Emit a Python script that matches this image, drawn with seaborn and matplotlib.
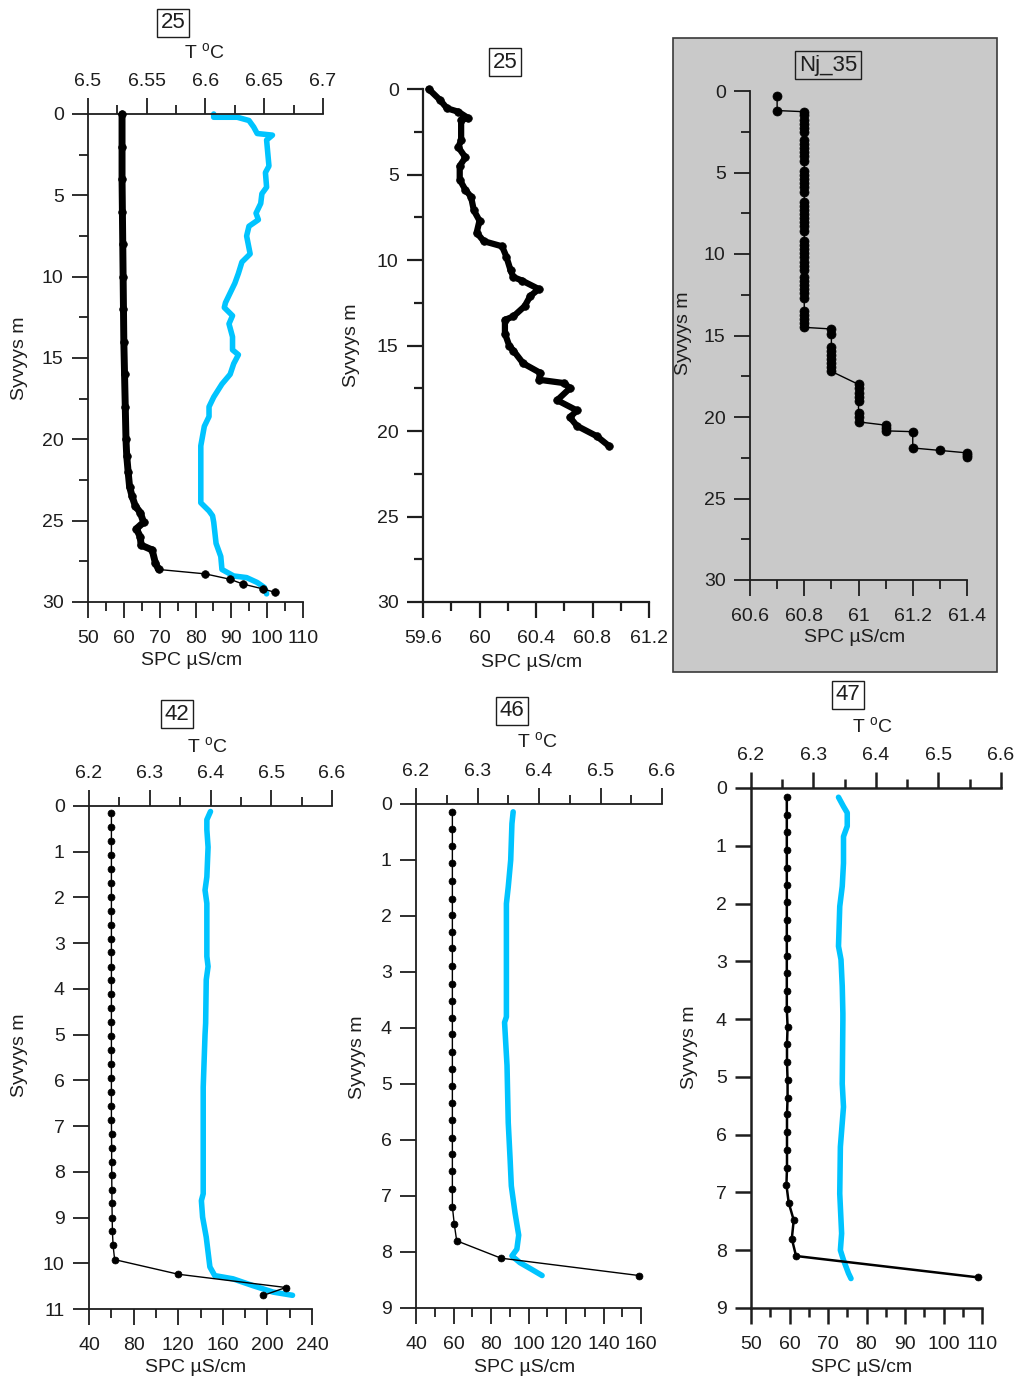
import matplotlib
matplotlib.use("Agg")
import matplotlib.pyplot as plt
from matplotlib.ticker import FixedLocator, NullLocator
from matplotlib.patches import Rectangle
import seaborn as sns

# ---------------------------------------------------------------- data
# Station 25, temperature + SPC profile
st25a_t_depth = [0.0, 0.2, 0.2, 0.4, 0.8, 1.2, 1.3, 1.6, 3.2, 3.6, 4.5, 4.9, 5.5, 6.1, 6.5,
                 6.9, 7.5, 8.6, 9.1, 9.8, 10.4, 11.0, 11.6, 11.9, 12.4, 12.9, 13.7, 14.5,
                 14.8, 15.35, 16.0, 16.6, 17.4, 18.0, 18.6, 19.2, 20.4, 21.9, 23.9, 24.4,
                 24.7, 25.1, 26.4, 27.2, 28.0, 28.4, 28.5, 28.8, 29.1, 29.5]
st25a_t = [6.607, 6.607, 6.627, 6.637, 6.641, 6.644, 6.657, 6.652, 6.654, 6.651, 6.652,
           6.648, 6.647, 6.643, 6.645, 6.637, 6.635, 6.638, 6.631, 6.628, 6.625, 6.621,
           6.617, 6.616, 6.623, 6.620, 6.623, 6.623, 6.628, 6.624, 6.621, 6.614, 6.607,
           6.603, 6.603, 6.599, 6.596, 6.596, 6.596, 6.603, 6.606, 6.607, 6.609, 6.613,
           6.614, 6.624, 6.635, 6.644, 6.650, 6.652]
st25a_spc_depth = [0.0, 2.0, 4.0, 6.0, 8.0, 10.0, 12.0, 14.0, 16.0, 18.0, 20.0, 21.0, 22.0,
                   22.9, 23.5, 24.1, 24.5, 25.1, 25.5, 26.0, 26.5, 26.8, 27.6, 28.0, 28.27,
                   28.6, 28.9, 29.2, 29.4]
st25a_spc = [59.5, 59.5, 59.5, 59.6, 59.7, 59.8, 59.9, 60.0, 60.2, 60.4, 60.6, 60.8, 61.2,
             61.6, 62.3, 63.2, 64.6, 65.5, 63.5, 64.6, 64.8, 67.9, 68.8, 69.7, 82.7, 89.6,
             93.3, 98.9, 102.1]

# Station 25, SPC only
st25b_depth = [0.0, 0.64, 1.13, 1.33, 1.7, 1.8, 3.0, 3.4, 4.0, 4.5, 5.3, 5.9, 6.3, 7.1, 7.7,
               8.4, 8.9, 9.2, 9.8, 10.6, 11.0, 11.2, 11.7, 12.1, 12.7, 13.3, 13.5, 14.3,
               15.0, 15.3, 16.05, 16.6, 17.0, 17.2, 17.5, 18.2, 18.8, 19.2, 19.7, 20.3, 20.9]
st25b_spc = [59.64, 59.72, 59.77, 59.85, 59.92, 59.87, 59.87, 59.85, 59.90, 59.86, 59.86,
             59.90, 59.94, 59.96, 60.00, 59.98, 60.03, 60.16, 60.19, 60.22, 60.24, 60.30,
             60.42, 60.36, 60.32, 60.24, 60.18, 60.18, 60.21, 60.24, 60.31, 60.43, 60.42,
             60.60, 60.64, 60.55, 60.69, 60.64, 60.69, 60.83, 60.92]

# Nj_35, SPC only
nj35_depth = [0.3, 1.2,
              1.27, 1.5, 1.75, 2.0, 2.25, 2.5,
              3.0, 3.25, 3.5, 3.75, 4.0, 4.3,
              4.9, 5.15, 5.4, 5.65, 5.9, 6.2,
              6.8, 7.05, 7.3, 7.55, 7.8, 8.05, 8.3, 8.6,
              9.2, 9.45, 9.7, 9.95, 10.2, 10.5, 10.75, 11.0,
              11.4, 11.65, 11.9, 12.15, 12.4, 12.7,
              13.5, 13.75, 14.0, 14.25, 14.5,
              14.6, 14.9, 15.7, 15.95, 16.2, 16.45, 16.7, 16.95, 17.2,
              18.0, 18.25, 18.5, 18.75, 19.0, 19.75, 20.0, 20.3,
              20.5, 20.7, 20.85,
              20.9, 21.9,
              22.05,
              22.2, 22.35, 22.45]
nj35_spc = [60.7, 60.7,
            60.8, 60.8, 60.8, 60.8, 60.8, 60.8,
            60.8, 60.8, 60.8, 60.8, 60.8, 60.8,
            60.8, 60.8, 60.8, 60.8, 60.8, 60.8,
            60.8, 60.8, 60.8, 60.8, 60.8, 60.8, 60.8, 60.8,
            60.8, 60.8, 60.8, 60.8, 60.8, 60.8, 60.8, 60.8,
            60.8, 60.8, 60.8, 60.8, 60.8, 60.8,
            60.8, 60.8, 60.8, 60.8, 60.8,
            60.9, 60.9, 60.9, 60.9, 60.9, 60.9, 60.9, 60.9, 60.9,
            61.0, 61.0, 61.0, 61.0, 61.0, 61.0, 61.0, 61.0,
            61.1, 61.1, 61.1,
            61.2, 61.2,
            61.3,
            61.4, 61.4, 61.4]

# Station 42
st42_depth = [0.15, 0.45, 0.76, 1.07, 1.37, 1.68, 1.99, 2.29, 2.6, 2.9, 3.2, 3.51, 3.81,
              4.11, 4.42, 4.72, 5.03, 5.34, 5.64, 5.95, 6.25, 6.56, 6.86, 7.17, 7.47, 7.78,
              8.08, 8.39, 8.69, 9.0, 9.3, 9.61, 9.92, 10.24, 10.53, 10.7]
st42_spc = [60.1, 60.1, 60.1, 60.1, 60.1, 60.1, 60.1, 60.1, 60.1, 60.1, 60.1, 60.1, 60.1,
            60.1, 60.1, 60.1, 60.1, 60.1, 60.1, 60.1, 60.1, 60.1, 60.1, 60.2, 60.3, 60.3,
            60.4, 60.5, 60.6, 60.8, 61.0, 61.6, 63.0, 120.1, 216.6, 196.5]
st42_t_depth = [0.12, 0.3, 0.52, 0.9, 1.55, 1.84, 2.13, 3.29, 3.51, 3.8, 4.75, 5.0, 6.15,
                8.48, 8.63, 8.99, 9.43, 10.08, 10.27, 10.34, 10.49, 10.63, 10.7]
st42_t = [6.400, 6.394, 6.394, 6.396, 6.394, 6.391, 6.394, 6.394, 6.396, 6.393, 6.392,
          6.391, 6.388, 6.388, 6.385, 6.387, 6.393, 6.399, 6.407, 6.437, 6.470, 6.503, 6.535]

# Station 46
st46_depth = [0.15, 0.45, 0.75, 1.06, 1.37, 1.69, 1.99, 2.28, 2.58, 2.89, 3.21, 3.52, 3.82,
              4.11, 4.42, 4.73, 5.03, 5.34, 5.65, 5.96, 6.25, 6.56, 6.88, 7.19, 7.5, 7.8,
              8.11, 8.42]
st46_spc = [59.4, 59.4, 59.4, 59.4, 59.4, 59.4, 59.4, 59.4, 59.4, 59.4, 59.4, 59.4, 59.4,
            59.4, 59.4, 59.4, 59.4, 59.4, 59.4, 59.4, 59.4, 59.4, 59.4, 59.4, 60.4, 61.7,
            85.3, 158.9]
st46_t_depth = [0.14, 0.35, 1.0, 1.48, 1.78, 3.8, 3.9, 4.67, 5.69, 6.34, 6.82, 7.3, 7.7,
                7.95, 8.07, 8.19, 8.31, 8.42]
st46_t = [6.358, 6.356, 6.354, 6.350, 6.347, 6.347, 6.344, 6.348, 6.350, 6.353, 6.355,
          6.361, 6.367, 6.364, 6.356, 6.369, 6.388, 6.405]

# Station 47
st47_depth = [0.16, 0.46, 0.77, 1.08, 1.38, 1.68, 1.98, 2.29, 2.6, 2.9, 3.2, 3.51, 3.82,
              4.13, 4.43, 4.74, 5.06, 5.36, 5.65, 5.96, 6.27, 6.57, 6.87, 7.18, 7.48, 7.8,
              8.1, 8.47]
st47_spc = [59.3, 59.3, 59.3, 59.3, 59.3, 59.3, 59.3, 59.3, 59.3, 59.3, 59.3, 59.3, 59.3,
            59.5, 59.35, 59.35, 59.5, 59.5, 59.35, 59.35, 59.35, 59.35, 59.2, 59.8, 61.1,
            60.6, 61.7, 109.0]
st47_t_depth = [0.16, 0.32, 0.43, 0.66, 0.84, 1.3, 1.7, 2.05, 2.74, 2.97, 3.43, 3.9, 4.02,
                5.12, 5.52, 6.21, 7.02, 7.71, 8.0, 8.17, 8.4, 8.49]
st47_t = [6.340, 6.348, 6.354, 6.354, 6.348, 6.348, 6.346, 6.342, 6.340, 6.344, 6.346,
          6.347, 6.347, 6.346, 6.348, 6.343, 6.342, 6.345, 6.343, 6.348, 6.356, 6.360]

# labels and ticks
titles = ["25", "25", "Nj_35", "42", "46", "47"]
depth_label = "Syvyys m"
spc_label = "SPC µS/cm"
temp_label = "T $^{\\mathregular{o}}$C"

t_ticks_25 = [6.5, 6.55, 6.6, 6.65, 6.7]
t_labels_25 = ["6.5", "6.55", "6.6", "6.65", "6.7"]
t_ticks_low = [6.2, 6.3, 6.4, 6.5, 6.6]
t_labels_low = ["6.2", "6.3", "6.4", "6.5", "6.6"]
spc_ticks_25a = [50, 60, 70, 80, 90, 100, 110]
spc_labels_25a = ["50", "60", "70", "80", "90", "100", "110"]
spc_ticks_25b = [59.6, 60.0, 60.4, 60.8, 61.2]
spc_labels_25b = ["59.6", "60", "60.4", "60.8", "61.2"]
spc_ticks_nj = [60.6, 60.8, 61.0, 61.2, 61.4]
spc_labels_nj = ["60.6", "60.8", "61", "61.2", "61.4"]
spc_ticks_42 = [40, 80, 120, 160, 200, 240]
spc_labels_42 = ["40", "80", "120", "160", "200", "240"]
spc_ticks_46 = [40, 60, 80, 100, 120, 140, 160]
spc_labels_46 = ["40", "60", "80", "100", "120", "140", "160"]
spc_ticks_47 = [50, 60, 70, 80, 90, 100, 110]
spc_labels_47 = ["50", "60", "70", "80", "90", "100", "110"]
depth_ticks_30 = [0, 5, 10, 15, 20, 25, 30]
depth_ticks_11 = [0, 1, 2, 3, 4, 5, 6, 7, 8, 9, 10, 11]
depth_ticks_9 = [0, 1, 2, 3, 4, 5, 6, 7, 8, 9]

# ---------------------------------------------------------------- style
sns.set_theme(style="ticks")
plt.rcParams["font.family"] = ["Liberation Sans", "DejaVu Sans"]
plt.rcParams["mathtext.fontset"] = "custom"
plt.rcParams["mathtext.rm"] = "Liberation Sans"
plt.rcParams["mathtext.it"] = "Liberation Sans:italic"
plt.rcParams["mathtext.bf"] = "Liberation Sans:bold"

W, H = 1019, 1378
fig = plt.figure(figsize=(W / 100, H / 100), dpi=100)
fig.patch.set_facecolor("white")

FS = 14
INK = "#1e1e1e"
BLUE = "#00C4FF"


def mids(vals):
    return [(a + b) / 2 for a, b in zip(vals[:-1], vals[1:])]


def fig_rect(box):
    l, t, r, b = box
    return [l / W, 1 - b / H, (r - l) / W, (b - t) / H]


def to_axes(box, px, py):
    l, t, r, b = box
    return (px - l) / (r - l), (b - py) / (b - t)


def tick_style(ax, axis, lw, pad, **kw):
    ax.tick_params(axis=axis, which="major", direction="out", length=11.5, width=lw,
                   colors=INK, labelsize=FS, pad=pad, **kw)
    ax.tick_params(axis=axis, which="minor", direction="out", length=6.5, width=lw,
                   colors=INK, **kw)


def draw(ax, x, y, **kw):
    sns.lineplot(x=x, y=y, ax=ax, sort=False, estimator=None, legend=False,
                 clip_on=False, **kw)


def make_panel(box, t_ticks=None, **_):
    ax = fig.add_axes(fig_rect(box))
    ax.patch.set_visible(False)
    ax_t = None
    if t_ticks is not None:
        ax_t = ax.twiny()
        ax.set_zorder(ax_t.get_zorder() + 1)
        ax.patch.set_visible(False)
    return ax, ax_t


def finish_panel(ax, ax_t, box, depth_ticks, depth_minor, spc_ticks, spc_labels,
                 spc_right_px, title, title_px, spc_label_px, ylabel_px,
                 t_ticks=None, t_labels=None, t_label_px=None, lw=1.3):
    l, t, r, b = box
    lo, hi = spc_ticks[0], spc_ticks[-1]
    ax.set_xlim(lo, lo + (hi - lo) * (r - l) / (spc_right_px - l))
    ax.set_ylim(depth_ticks[-1], depth_ticks[0])
    for s in ("top", "right"):
        ax.spines[s].set_visible(False)
    for s in ("left", "bottom"):
        ax.spines[s].set_linewidth(lw)
        ax.spines[s].set_color(INK)
    ax.spines["bottom"].set_bounds(lo, hi)
    ax.xaxis.set_major_locator(FixedLocator(spc_ticks))
    ax.set_xticklabels(spc_labels)
    ax.xaxis.set_minor_locator(FixedLocator(mids(spc_ticks)))
    ax.yaxis.set_major_locator(FixedLocator(depth_ticks))
    ax.set_yticklabels([str(d) for d in depth_ticks])
    if depth_minor:
        ax.yaxis.set_minor_locator(FixedLocator(mids(depth_ticks)))
    else:
        ax.yaxis.set_minor_locator(NullLocator())
    tick_style(ax, "x", lw, 8.5, bottom=True, top=False)
    tick_style(ax, "y", lw, 6, left=True, right=False)
    ax.set_xlabel(spc_label, fontsize=FS, color=INK)
    ax.xaxis.label.set_va("center")
    ax.xaxis.set_label_coords(*to_axes(box, *spc_label_px))
    ax.set_ylabel(depth_label, fontsize=FS, color=INK)
    ax.yaxis.label.set_va("center")
    ax.yaxis.set_label_coords(*to_axes(box, *ylabel_px))
    if ax_t is not None:
        ax_t.set_xlim(t_ticks[0], t_ticks[-1])
        for s in ("left", "right", "bottom"):
            ax_t.spines[s].set_visible(False)
        ax_t.spines["top"].set_linewidth(lw)
        ax_t.spines["top"].set_color(INK)
        ax_t.xaxis.set_major_locator(FixedLocator(t_ticks))
        ax_t.set_xticklabels(t_labels)
        ax_t.xaxis.set_minor_locator(FixedLocator(mids(t_ticks)))
        tick_style(ax_t, "x", lw, 5.5, top=True, bottom=False, labeltop=True,
                   labelbottom=False)
        ax_t.set_xlabel(temp_label, fontsize=FS, color=INK)
        ax_t.xaxis.label.set_va("center")
        ax_t.xaxis.set_label_coords(*to_axes(box, *t_label_px))
        ax_t.set_ylabel("")
    fig.text(title_px[0] / W, 1 - title_px[1] / H, title, ha="center", va="center",
             fontsize=16, color=INK,
             bbox=dict(boxstyle="square,pad=0.17", fc="none", ec=INK, lw=1.0))


line_kw = dict(color="black", linewidth=1.0, marker="o", markeredgecolor="black",
               markeredgewidth=0.5)
blue_kw = dict(color=BLUE, linewidth=4.0, solid_joinstyle="round", solid_capstyle="round")

# grey background for Nj_35
fig.add_artist(Rectangle((673 / W, 1 - 672 / H), 324 / W, 634 / H, transform=fig.transFigure,
                         facecolor="#C9C9C9", edgecolor="#3a3a3a", linewidth=1.2, zorder=-5))

# ---------------- panel 1: station 25 (T + SPC)
cfg1 = dict(box=(88, 114, 323, 602), depth_ticks=depth_ticks_30, depth_minor=True,
            spc_ticks=spc_ticks_25a, spc_labels=spc_labels_25a, spc_right_px=303,
            title=titles[0], title_px=(173, 23), spc_label_px=(192, 660), ylabel_px=(20, 358),
            t_ticks=t_ticks_25, t_labels=t_labels_25, t_label_px=(204, 52))
ax1, ax1t = make_panel(**cfg1)
draw(ax1t, st25a_t, st25a_t_depth, **blue_kw)
n_dense = sum(1 for d in st25a_spc_depth if d <= 28.0)
draw(ax1, st25a_spc[:n_dense], st25a_spc_depth[:n_dense], color="black", linewidth=5.0,
     solid_joinstyle="round", solid_capstyle="round")
draw(ax1, st25a_spc, st25a_spc_depth, markersize=5.5, **line_kw)
finish_panel(ax1, ax1t, **cfg1)

# ---------------- panel 2: station 25 (SPC only)
cfg2 = dict(box=(423, 89, 649, 602), depth_ticks=depth_ticks_30, depth_minor=True,
            spc_ticks=spc_ticks_25b, spc_labels=spc_labels_25b, spc_right_px=649,
            title=titles[1], title_px=(505, 62), spc_label_px=(532, 662), ylabel_px=(352, 345),
            lw=1.6)
ax2, _ = make_panel(**cfg2)
draw(ax2, st25b_spc, st25b_depth, color="black", linewidth=4.5,
     solid_joinstyle="round", solid_capstyle="round")
draw(ax2, st25b_spc, st25b_depth, markersize=5.5, **line_kw)
finish_panel(ax2, None, **cfg2)

# ---------------- panel 3: Nj_35
cfg3 = dict(box=(750, 91, 967, 580), depth_ticks=depth_ticks_30, depth_minor=True,
            spc_ticks=spc_ticks_nj, spc_labels=spc_labels_nj, spc_right_px=967,
            title=titles[2], title_px=(828, 65), spc_label_px=(855, 638), ylabel_px=(683, 333))
ax3, _ = make_panel(**cfg3)
draw(ax3, nj35_spc, nj35_depth, markersize=6.5, **line_kw)
finish_panel(ax3, None, **cfg3)

# ---------------- panel 4: station 42
cfg4 = dict(box=(89, 806, 332, 1309), depth_ticks=depth_ticks_11, depth_minor=False,
            spc_ticks=spc_ticks_42, spc_labels=spc_labels_42, spc_right_px=312,
            title=titles[3], title_px=(177, 714), spc_label_px=(196, 1367), ylabel_px=(20, 1055),
            t_ticks=t_ticks_low, t_labels=t_labels_low, t_label_px=(207, 746))
ax4, ax4t = make_panel(**cfg4)
draw(ax4t, st42_t, st42_t_depth, **blue_kw)
draw(ax4, st42_spc, st42_depth, markersize=5.0, **line_kw)
finish_panel(ax4, ax4t, **cfg4)

# ---------------- panel 5: station 46
cfg5 = dict(box=(416, 804, 662, 1308), depth_ticks=depth_ticks_9, depth_minor=False,
            spc_ticks=spc_ticks_46, spc_labels=spc_labels_46, spc_right_px=641,
            title=titles[4], title_px=(512, 711), spc_label_px=(525, 1367), ylabel_px=(358, 1057),
            t_ticks=t_ticks_low, t_labels=t_labels_low, t_label_px=(537, 741))
ax5, ax5t = make_panel(**cfg5)
draw(ax5t, st46_t, st46_t_depth, **blue_kw)
draw(ax5, st46_spc, st46_depth, markersize=5.0, **line_kw)
finish_panel(ax5, ax5t, **cfg5)

# ---------------- panel 6: station 47
cfg6 = dict(box=(751, 788, 1001, 1308), depth_ticks=depth_ticks_9, depth_minor=False,
            spc_ticks=spc_ticks_47, spc_labels=spc_labels_47, spc_right_px=982,
            title=titles[5], title_px=(848, 695), spc_label_px=(862, 1367), ylabel_px=(690, 1047),
            t_ticks=t_ticks_low, t_labels=t_labels_low, t_label_px=(872, 726), lw=1.8)
ax6, ax6t = make_panel(**cfg6)
draw(ax6t, st47_t, st47_t_depth, **blue_kw)
k47 = dict(line_kw)
k47["linewidth"] = 1.8
draw(ax6, st47_spc, st47_depth, markersize=5.0, **k47)
finish_panel(ax6, ax6t, **cfg6)

fig.savefig("out.png", dpi=100, facecolor="white")
